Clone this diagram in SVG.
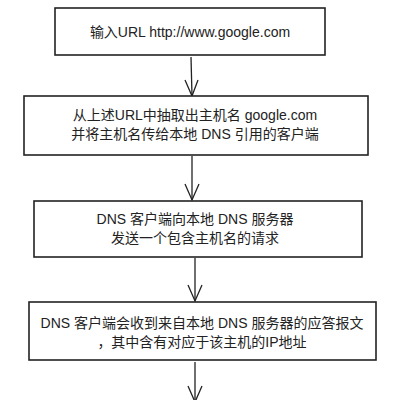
<svg xmlns="http://www.w3.org/2000/svg" width="404" height="400" viewBox="0 0 404 400">
<style>
.box{fill:#fff;stroke:#222;stroke-width:1.6}
.t{font-family:"Liberation Sans","Noto Sans CJK SC",sans-serif;font-size:14px;fill:#222;text-anchor:middle}
.c{stroke:#222;stroke-width:1.3;fill:none}
</style>
<rect width="404" height="400" fill="#fff"/>
<g id="connectors">
<line class="c" x1="191" y1="57" x2="192" y2="96"/>
<path class="c" d="M185,80 L192,96 L198,80"/>
<line class="c" x1="192" y1="156" x2="192" y2="200"/>
<path class="c" d="M185,184 L192,200 L199,184"/>
<line class="c" x1="195" y1="258" x2="195" y2="301"/>
<path class="c" d="M188,285 L195,301 L202,285"/>
<line class="c" x1="195" y1="362" x2="195" y2="402"/>
<path class="c" d="M188,386 L195,402 L202,386"/>
</g>
<g id="n1">
<rect class="box" x="55" y="8" width="270" height="47"/>
<text class="t" x="190" y="37">输入URL http://www.google.com</text>
</g>
<g id="n2">
<rect class="box" x="24" y="96" width="344" height="59"/>
<text class="t" x="195" y="120">从上述URL中抽取出主机名 google.com</text>
<text class="t" x="195" y="139">并将主机名传给本地 DNS 引用的客户端</text>
</g>
<g id="n3">
<rect class="box" x="34" y="201" width="328" height="56"/>
<text class="t" x="195" y="224">DNS 客户端向本地 DNS 服务器</text>
<text class="t" x="195" y="243">发送一个包含主机名的请求</text>
</g>
<g id="n4">
<rect class="box" x="29" y="302" width="347" height="58"/>
<text class="t" x="202" y="328">DNS 客户端会收到来自本地 DNS 服务器的应答报文</text>
<text class="t" x="202" y="347">，其中含有对应于该主机的IP地址</text>
</g>
</svg>
